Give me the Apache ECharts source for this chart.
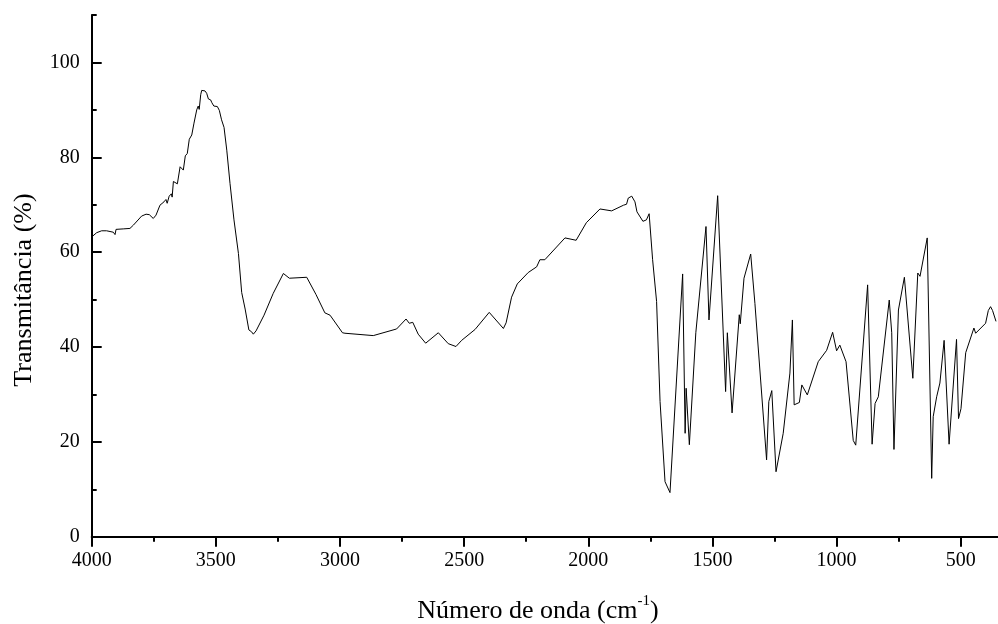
<!DOCTYPE html>
<html>
<head>
<meta charset="utf-8">
<script src="https://cdn.jsdelivr.net/npm/echarts@6/dist/echarts.min.js"></script>
<style>html,body{margin:0;padding:0;background:#fff;}#c{width:998px;height:624px;}</style>
</head>
<body>
<div id="c"></div>
<script>
// wavenumbers (cm-1)
var wavenumbers = [4000,3980,3960,3940,3913,3906,3902,3873,3846,3840,3832,3799,3781,3768,3752,3745,3741,3725,3709,3701,3696,3688,3679,3676,3671,3663,3655,3644,3636,3631,3623,3615,3607,3597,3588,3577,3571,3567,3561,3557,3550,3544,3537,3530,3521,3516,3508,3494,3486,3477,3467,3456,3443,3427,3409,3396,3382,3367,3356,3349,3338,3306,3269,3228,3204,3134,3097,3061,3040,2990,2980,2866,2772,2734,2721,2707,2685,2655,2604,2564,2533,2510,2456,2399,2342,2331,2309,2286,2242,2208,2195,2175,2094,2049,2008,1953,1906,1858,1852,1846,1839,1832,1825,1819,1812,1804,1780,1766,1755,1741,1725,1711,1691,1671,1620,1610,1606,1604,1593,1567,1526,1514,1479,1447,1440,1432,1421,1392,1388,1373,1346,1329,1282,1273,1261,1244,1215,1188,1178,1171,1150,1140,1118,1074,1040,1016,1000,987,962,933,923,875,857,845,832,788,778,769,751,727,693,673,664,635,617,611,597,584,567,547,541,517,509,499,480,447,440,400,389,380,372,358];
// transmittance (%)
var transmittance = [63.2,64.1,64.5,64.5,64.2,63.7,64.8,64.9,65.0,64.6,65.7,67.6,68.0,67.9,67.1,66.8,67.8,69.9,70.6,71.1,70.3,71.8,72.3,71.6,74.9,75.2,74.4,78.0,78.4,77.3,80.3,80.8,83.8,84.7,87.2,90.0,90.8,90.1,93.2,94.1,93.7,94.0,93.5,92.3,92.1,91.5,90.8,90.7,89.9,87.9,86.3,81.5,74.5,66.8,59.7,51.5,48.0,43.6,43.2,42.7,43.4,46.7,51.3,55.5,54.5,54.7,51.1,47.2,46.7,43.0,42.9,42.4,43.8,45.9,45.0,45.2,42.7,40.8,43.0,40.7,40.1,41.4,43.7,47.3,43.9,45.1,50.5,53.3,55.7,56.9,58.4,58.4,63.0,62.5,66.2,69.1,68.7,69.9,70.3,70.1,71.4,71.1,71.8,71.6,70.6,68.5,66.5,66.8,68.1,58.4,49.6,28.5,11.6,9.3,55.4,21.8,31.3,31.3,19.4,43.0,65.4,45.7,71.9,30.6,43.0,43.0,26.1,46.8,44.9,54.5,59.6,49.2,16.2,28.5,30.8,13.7,21.8,34.5,45.7,27.8,28.3,32.0,29.9,36.9,39.3,43.1,39.2,40.4,36.9,20.3,19.3,53.1,19.5,28.1,29.5,49.9,43.0,18.4,47.8,54.7,33.4,55.6,54.9,63.0,12.3,25.3,29.5,32.4,41.4,19.5,19.3,41.6,24.9,27.0,38.8,44.0,42.9,45.0,47.7,48.5,47.7,45.4];
// tick values
var xMajorTicks = [4000,3500,3000,2500,2000,1500,1000,500];
var xMinorTicks = [3750,3250,2750,2250,1750,1250,750];
var yMajorTicks = [0,20,40,60,80,100];
var yMinorTicks = [10,30,50,70,90,110];

var FONT = 'Liberation Serif';
var plain = function (v) { return String(v); };
var seriesData = wavenumbers.map(function(w, i){ return [w, transmittance[i]]; });

var chart = echarts.init(document.getElementById('c'));
var baseX = {
  type: 'value', inverse: true, min: 352, max: 4000, position: 'bottom',
  splitLine: {show: false}
};
var baseY = {
  type: 'value', min: 0, max: 110, position: 'left',
  splitLine: {show: false}
};
chart.setOption({
  animation: false,
  backgroundColor: '#fff',
  grid: {left: 91.7, top: 15, right: 0.5, bottom: 87.3, containLabel: false},
  xAxis: [
    Object.assign({}, baseX, {
      axisLine: {show: true, onZero: false, lineStyle: {color: '#000', width: 2}},
      axisTick: {show: true, inside: false, length: 10, lineStyle: {color: '#000', width: 2}, customValues: xMajorTicks},
      axisLabel: {show: true, customValues: xMajorTicks, formatter: plain, color: '#000', fontSize: 20, fontFamily: FONT, margin: 14}
    }),
    Object.assign({}, baseX, {
      axisLine: {show: false},
      axisTick: {show: true, inside: false, length: 5, lineStyle: {color: '#000', width: 2}, customValues: xMinorTicks},
      axisLabel: {show: false}
    })
  ],
  yAxis: [
    Object.assign({}, baseY, {
      axisLine: {show: true, onZero: false, lineStyle: {color: '#000', width: 2}},
      axisTick: {show: true, inside: true, length: 10, lineStyle: {color: '#000', width: 2}, customValues: yMajorTicks},
      axisLabel: {show: true, customValues: yMajorTicks, formatter: plain, color: '#000', fontSize: 20, fontFamily: FONT, margin: 12}
    }),
    Object.assign({}, baseY, {
      axisLine: {show: false},
      axisTick: {show: true, inside: true, length: 5, lineStyle: {color: '#000', width: 2}, customValues: yMinorTicks},
      axisLabel: {show: false}
    })
  ],
  graphic: [
    {
      type: 'text', x: 24, y: 290, rotation: Math.PI / 2,
      style: {text: 'Transmitância (%)', fill: '#000', font: '26px "Liberation Serif"', align: 'center', verticalAlign: 'middle'}
    },
    {
      type: 'text', x: 538, y: 609,
      style: {
        text: '{a|Número de onda (cm}{s|-1}{a|)}',
        align: 'center', verticalAlign: 'middle',
        rich: {
          a: {fill: '#000', fontSize: 26, fontFamily: FONT, lineHeight: 30, verticalAlign: 'bottom'},
          s: {fill: '#000', fontSize: 15, fontFamily: FONT, lineHeight: 30, verticalAlign: 'top', padding: [0, 0, 0, 0]}
        }
      }
    }
  ],
  series: [{
    type: 'line', xAxisIndex: 0, yAxisIndex: 0,
    data: seriesData, showSymbol: false, symbol: 'none',
    lineStyle: {color: '#000', width: 1}, z: 3
  }]
});
</script>
</body>
</html>
